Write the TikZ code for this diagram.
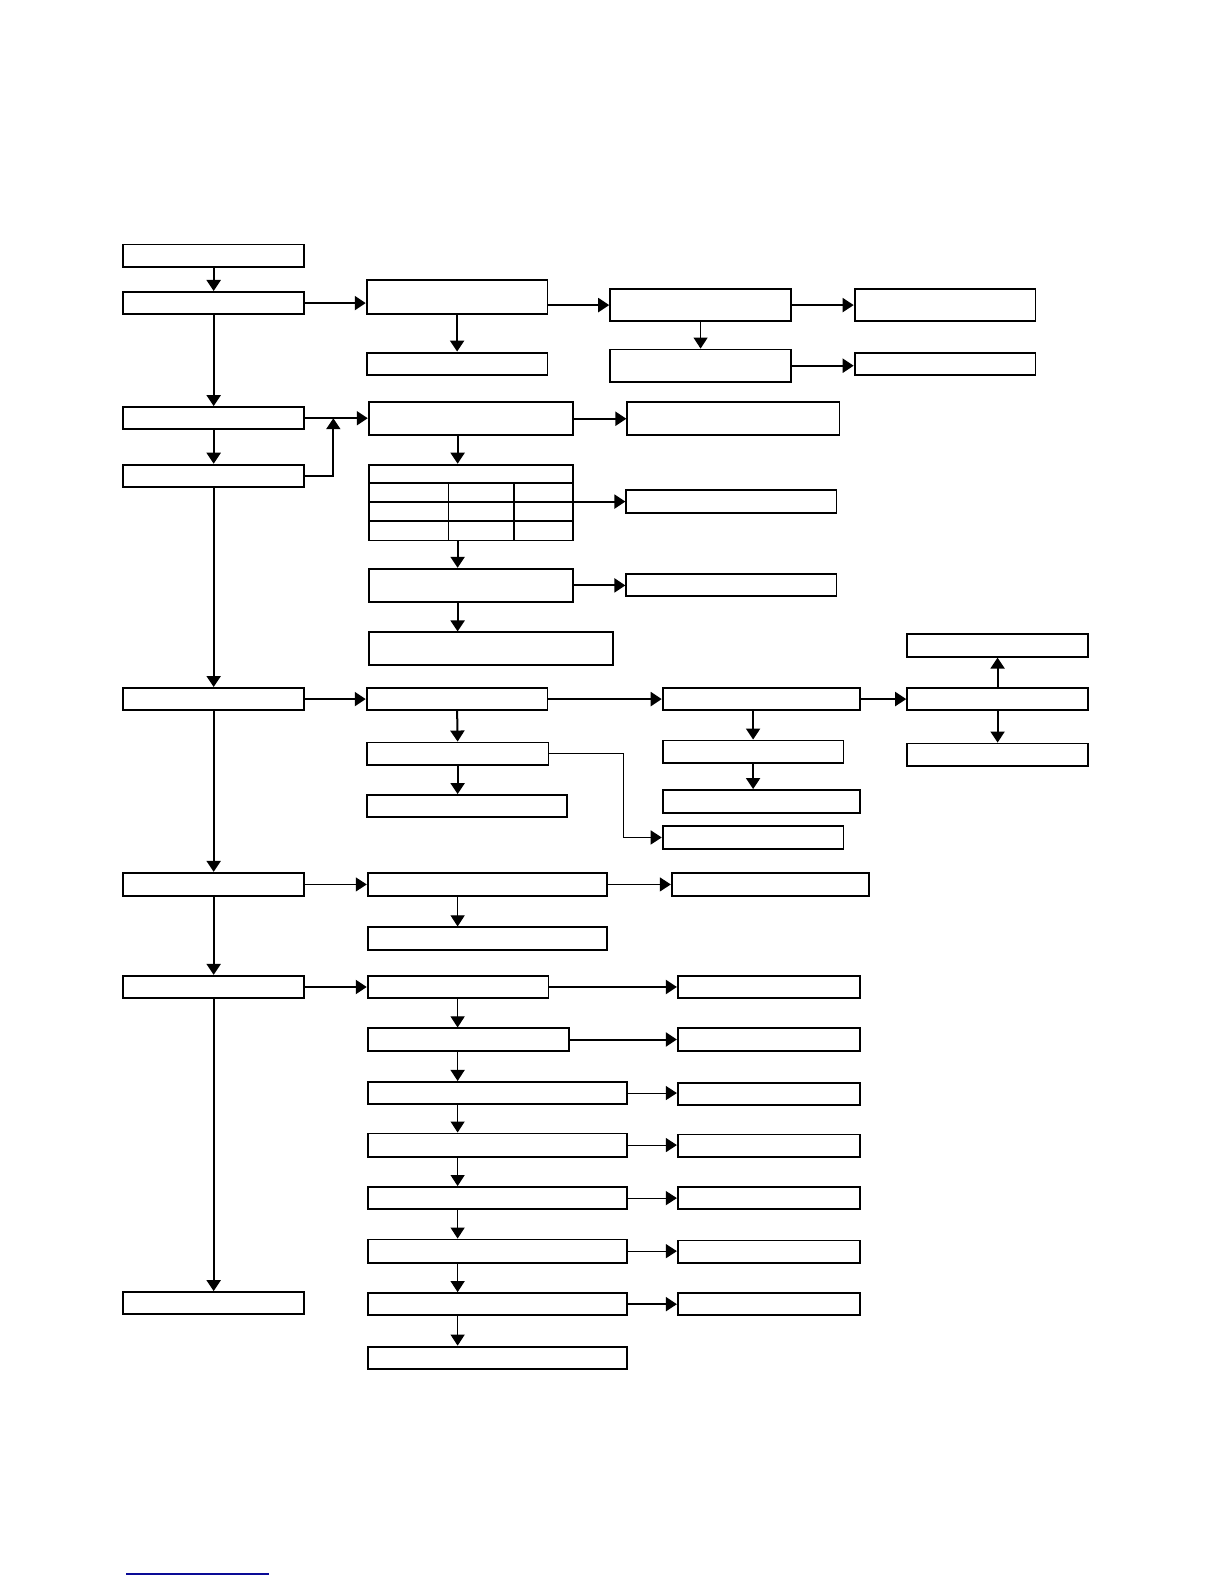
\documentclass[tikz,border=0pt]{standalone}
\usetikzlibrary{arrows.meta,fit,calc}
\definecolor{linkblue}{RGB}{10,10,150}
\newcommand\bx[5]{\node[box, fit={(#2,#3) (#4,#5)}] (#1) {};}
\begin{document}
\begin{tikzpicture}[x=1.0099pt,y=-1.0099pt,
 box/.style={draw,line width=1.9pt,inner sep=0pt,fill=white},
 arr/.style={line width=2pt,-{Triangle[length=11pt,width=14pt]}},
 tarr/.style={line width=1.1pt,-{Triangle[length=11pt,width=14pt]}}]
\useasboundingbox (0,0) rectangle (1212,1568);
\fill[white] (0,0) rectangle (1212,1568);
\coordinate (colx) at (453,0);
\coordinate (el) at (617,0);
% row 1
\bx{A}{122}{242}{301}{264}
\bx{B}{122}{289}{301}{311}
\bx{C}{363}{277}{542}{311}
\bx{C2}{363}{349}{542}{371}
\bx{G}{604}{286}{783}{318}
\bx{G2}{604}{346}{783}{378}
\bx{H}{846}{286}{1025}{318}
\bx{H2}{846}{349}{1025}{371}
% row 3
\bx{D}{122}{403}{301}{425}
\bx{E}{122}{460}{301}{482}
\bx{F}{365}{398}{567}{431}
\bx{I}{621}{398}{831}{431}
\bx{tab}{365}{460}{567}{535}
\draw[line width=1.9pt] (365,478) -- (567,478) (365,497) -- (567,497) (365,516) -- (567,516)
  (444,478) -- (444,535) (509,478) -- (509,535);
\bx{J}{620}{485}{828}{508}
\bx{K}{365}{563}{567}{596}
\bx{L}{620}{568}{828}{590}
\bx{M}{365}{626}{607}{658}
% row N
\bx{N}{122}{681}{301}{703}
\bx{O}{363}{681}{542}{703}
\bx{P}{656}{681}{851}{703}
\bx{Q}{898}{681}{1077}{703}
\bx{Q1}{898}{628}{1077}{650}
\bx{Q2}{898}{736}{1077}{758}
\bx{O2}{363}{735}{543}{757}
\bx{O3}{363}{787}{561}{809}
\bx{R}{656}{818}{835}{840}
\bx{P2}{656}{733}{835}{755}
\bx{P3}{656}{782}{851}{805}
% row S
\bx{S}{122}{864}{301}{887}
\bx{T}{364}{864}{601}{887}
\bx{U}{665}{864}{860}{887}
\bx{T2}{364}{918}{601}{940}
% row V
\bx{V}{122}{966}{301}{988}
\bx{W}{364}{966}{543}{988}
\bx{X}{671}{966}{851}{988}
\bx{W2}{364}{1018}{563}{1040}
\bx{X2}{671}{1018}{851}{1040}
\bx{W3}{364}{1071}{621}{1093}
\bx{X3}{671}{1072}{851}{1094}
\bx{W4}{364}{1122}{621}{1145}
\bx{X4}{671}{1123}{851}{1145}
\bx{W5}{364}{1175}{621}{1197}
\bx{X5}{671}{1175}{851}{1197}
\bx{W6}{364}{1227}{621}{1250}
\bx{X6}{671}{1228}{851}{1250}
\bx{W7}{364}{1280}{621}{1302}
\bx{X7}{671}{1280}{851}{1302}
\bx{W8}{364}{1333}{621}{1355}
\bx{Y}{122}{1279}{301}{1301}
% connectors
\draw[arr] (A.south) -- (B.north);
\draw[arr] (B.east) -- (B.east -| C.west);
\draw[arr] (C.south) -- (C2.north);
\draw[arr] (C.east |- G.west) -- (G.west);
\draw[arr] (G.east) -- (H.west);
\draw[tarr] (G.south) -- (G2.north);
\draw[arr] (G2.east) -- (G2.east -| H2.west);
\draw[arr] (B.south) -- (D.north);
\draw[arr] (D.south) -- (E.north);
\draw[arr] (D.east) -- (D.east -| F.west);
\coordinate (fb) at ($(D.east)+(28,0)$);
\draw[arr] (E.east) -| (fb);
\draw[arr] (F.east) -- (I.west);
\draw[arr] (F.south -| colx) -- (tab.north -| colx);
\draw[arr] (tab.east |- J.west) -- (J.west);
\draw[arr] (tab.south -| colx) -- (K.north -| colx);
\draw[arr] (K.east) -- (K.east -| L.west);
\draw[arr] (K.south -| colx) -- (M.north -| colx);
\draw[arr] (E.south) -- (N.north);
\draw[arr] (N.east) -- (O.west);
\draw[arr] (O.east) -- (P.west);
\draw[arr] (P.east) -- (Q.west);
\draw[arr] (Q.north) -- (Q1.south);
\draw[arr] (Q.south) -- (Q2.north);
\draw[arr] (O.south) -- (O2.north);
\draw[arr] (O2.south -| colx) -- (O3.north -| colx);
\draw[tarr] (O2.east) -- (O2.east -| el) |- (R.west);
\draw[arr] (P.south -| P2.north) -- (P2.north);
\draw[arr] (P2.south) -- (P2.south |- P3.north);
\draw[arr] (N.south) -- (S.north);
\draw[tarr] (S.east) -- (T.west);
\draw[tarr] (T.east) -- (U.west);
\draw[tarr] (T.south -| colx) -- (T2.north -| colx);
\draw[arr] (S.south) -- (V.north);
\draw[arr] (V.east) -- (W.west);
\draw[arr] (W.east) -- (X.west);
\draw[tarr] (W.south -| colx) -- (W2.north -| colx);
\draw[arr] (W2.east) -- (W2.east -| X2.west);
\draw[tarr] (W2.south -| colx) -- (W3.north -| colx);
\draw[tarr] (W3.east) -- (W3.east -| X3.west);
\draw[tarr] (W3.south -| colx) -- (W4.north -| colx);
\draw[tarr] (W4.east) -- (W4.east -| X4.west);
\draw[tarr] (W4.south -| colx) -- (W5.north -| colx);
\draw[tarr] (W5.east) -- (W5.east -| X5.west);
\draw[tarr] (W5.south -| colx) -- (W6.north -| colx);
\draw[tarr] (W6.east) -- (W6.east -| X6.west);
\draw[tarr] (W6.south -| colx) -- (W7.north -| colx);
\draw[arr] (W7.east) -- (W7.east -| X7.west);
\draw[tarr] (W7.south -| colx) -- (W8.north -| colx);
\draw[arr] (V.south) -- (Y.north);
% blue rule at the foot
\draw[line width=1.5pt, linkblue] (125,1558) -- (266,1558);
\end{tikzpicture}
\end{document}
